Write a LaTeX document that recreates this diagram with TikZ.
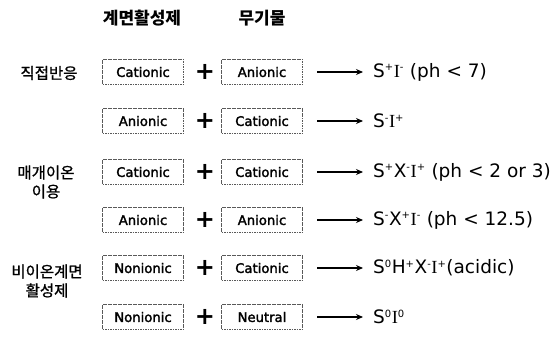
\documentclass[tikz,border=0pt]{standalone}
\usepackage{fontspec}
\setmainfont{DejaVu Sans}
\newfontfamily\boxfont[FakeBold=2]{DejaVu Sans}
\newfontfamily\kor[FakeBold=1]{Noto Sans CJK KR}
\newfontfamily\korh{Noto Sans CJK KR}
\newfontfamily\serifI{Liberation Serif}
\usetikzlibrary{arrows.meta}
\newcommand{\Ii}{{\serifI I}}
\newcommand{\sps}[1]{\textsuperscript{\fontsize{10}{10}\selectfont #1}}
\tikzset{
  x=1pt,y=-1pt,
  mbox/.style={draw=black!65, dash pattern=on 1.6pt off 0.9pt, line width=0.6pt,
    minimum width=81pt, minimum height=25pt, inner sep=0pt,
    font=\boxfont\fontsize{13.2}{13.2}\selectfont, text=black},
  plussign/.style={font=\fontsize{24}{24}\selectfont\bfseries, inner sep=0pt},
  rarrow/.style={-{Stealth[length=7pt,width=6pt]}, line width=1.1pt},
  formula/.style={anchor=west, font=\fontsize{18.5}{18.5}\selectfont, inner sep=0pt},
  hdr/.style={font=\korh\bfseries\fontsize{17}{17}\selectfont},
  side/.style={font=\kor\fontsize{15.5}{19}\selectfont, align=center}
}
\begin{document}
\begin{tikzpicture}
\useasboundingbox (0,0) rectangle (558,345);
\node[hdr] (h1) at (142,18) {계면활성제};
\node[hdr] (h2) at (262,18) {무기물};

\node[side] (s1) at (49,73) {직접반응};
\node[side] (s2) at (46,182) {매개이온\\이용};
\node[side] (s3) at (47,281) {비이온계면\\활성제};

\foreach \i/\y/\a/\b/\f in {
  1/72/Cationic/Anionic/{S\sps{+}\Ii\sps{-} (ph < 7)},
  2/121/Anionic/Cationic/{S\sps{-}\Ii\sps{+}},
  3/172/Cationic/Cationic/{S\sps{+}X\sps{-}\Ii\sps{+} (ph < 2 or 3)},
  4/220/Anionic/Anionic/{S\sps{-}X\sps{+}\Ii\sps{-} (ph < 12.5)},
  5/268/Nonionic/Cationic/{S\sps{0}H\sps{+}X\sps{-}\Ii\sps{+}(acidic)},
  6/317/Nonionic/Neutral/{S\sps{0}\Ii\sps{0}}}{
  \node[mbox] (l\i) at (143,\y) {\a};
  \node[plussign] (p\i) at (205,\y) {+};
  \node[mbox] (r\i) at (262,\y) {\b};
  \coordinate (as\i) at (317,\y);
  \node[formula] (f\i) at (373,\y) {\f};
  \draw[rarrow] (as\i) -- ([xshift=-10pt]f\i.west);
}
\end{tikzpicture}
\end{document}
